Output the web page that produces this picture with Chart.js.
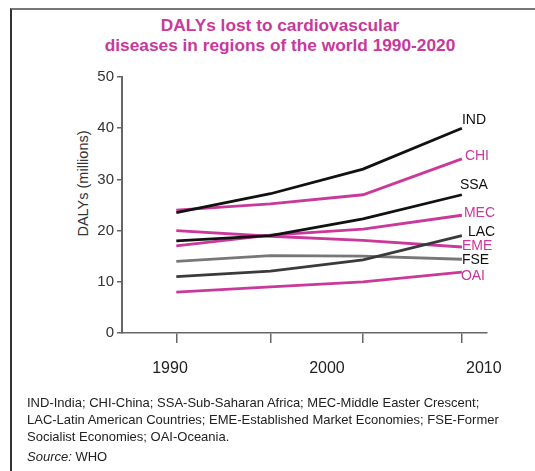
<!DOCTYPE html>
<html>
<head>
<meta charset="utf-8">
<script src="https://cdn.jsdelivr.net/npm/chart.js@4"></script>
<style>
  body { margin: 0; background: #fff; font-family: "Liberation Sans", Arial, sans-serif; }
  #wrap { position: relative; width: 535px; height: 471px; overflow: hidden; }
  #frame { position: absolute; left: 10px; top: 8px; right: 0; bottom: 0; border-top: 2px solid #777; border-left: 2px solid #333; }
  #titel { position: absolute; left: 0; top: 15px; width: 560px; text-align: center; color: #c9389b; font-weight: bold; font-size: 17.3px; line-height: 20px; }
  #ytitel { position: absolute; left: -17px; top: 175px; width: 200px; height: 17px; line-height: 17px; text-align: center; font-size: 14.5px; color: #333; transform: rotate(-90deg); }
  #noot { position: absolute; left: 27px; top: 394px; font-size: 13px; line-height: 17px; color: #222; }
  #bron { margin-top: 3px; }
  canvas { position: absolute; left: 0; top: 0; }
</style>
</head>
<body>
<div id="wrap">
  <div id="frame"></div>
  <div id="titel">DALYs lost to cardiovascular<br>diseases in regions of the world 1990-2020</div>
  <div id="ytitel">DALYs (millions)</div>
  <canvas id="dalyChart" width="535" height="471"></canvas>
  <div id="noot">
    IND-India; CHI-China; SSA-Sub-Saharan Africa; MEC-Middle Easter Crescent;<br>
    LAC-Latin American Countries; EME-Established Market Economies; FSE-Former<br>
    Socialist Economies; OAI-Oceania.
    <div id="bron"><i>Source:</i> WHO</div>
  </div>
</div>
<script>
var years = [1990.4, 1996.4, 2002.3, 2008.6];
// Jaartallen onder de as
var yearLabels = [1990, 2000, 2010];
// Tick labels links
var yTicks = [0, 10, 20, 30, 40, 50];

// Regio's en hun waarden (miljoen DALYs)
var regions = ['IND', 'CHI', 'SSA', 'MEC', 'LAC', 'EME', 'FSE', 'OAI'];
var ind = [23.5, 27.2, 32.0, 40.0];
var chi = [24.0, 25.2, 27.0, 34.0];
var ssa = [18.0, 19.0, 22.3, 27.0];
var mec = [17.0, 19.1, 20.3, 23.0];
var lac = [11.0, 12.1, 14.3, 19.0];
var eme = [20.0, 18.9, 18.1, 16.8];
var fse = [14.0, 15.1, 15.0, 14.4];
var oai = [8.0, 9.0, 10.0, 11.9];
var values = [ind, chi, ssa, mec, lac, eme, fse, oai];

var pink = '#c9389b';
var lineColors = ['#111', pink, '#111', pink, '#3a3a3a', pink, '#777', pink];
var textColors = ['#111', pink, '#111', pink, '#111', pink, '#111', pink];
// kleine verschuiving van de namen aan het eind van de lijn
var nudge = [[0, -8], [3, -3], [-2, -10], [2, -2], [6, -4], [0, -1], [0, 1], [-1, 4]];

var xMin = 1986.94;
var xMax = 2010.2;

// Namen rechts naast het laatste punt
var endLabels = {
    id: 'endLabels',
    afterDatasetsDraw: function (chart) {
        var ctx = chart.ctx;
        ctx.save();
        ctx.font = '14px "Liberation Sans", Arial, sans-serif';
        ctx.textAlign = 'left';
        ctx.textBaseline = 'middle';
        chart.data.datasets.forEach(function (ds, i) {
            var pts = chart.getDatasetMeta(i).data;
            var last = pts[pts.length - 1];
            ctx.fillStyle = textColors[i];
            ctx.fillText(ds.label, last.x + nudge[i][0], last.y + nudge[i][1]);
        });
        ctx.restore();
    }
};

var ctx = document.getElementById('dalyChart').getContext('2d');
var chart = new Chart(ctx, {
    type: 'line',
    data: {
        datasets: regions.map(function (r, i) {
            return {
                label: r,
                data: years.map(function (y, j) { return { x: y, y: values[i][j] }; }),
                borderColor: lineColors[i],
                borderWidth: 2.8,
                pointRadius: 0,
                tension: 0,
                fill: false
            };
        })
    },
    options: {
        responsive: false,
        animation: false,
        layout: { padding: { left: 0, right: 48, top: 77, bottom: 93 } },
        plugins: {
            legend: { display: false },
            tooltip: { enabled: false }
        },
        scales: {
            x: {
                type: 'linear',
                min: xMin,
                max: xMax,
                afterBuildTicks: function (s) { s.ticks = years.map(function (v) { return { value: v }; }); },
                afterFit: function (s) { s.height = 10; },
                ticks: { display: false },
                grid: { drawOnChartArea: false, tickLength: 10, color: '#666', lineWidth: 1.5 },
                border: { color: '#666', width: 1.5 }
            },
            x2: {
                type: 'linear',
                position: 'bottom',
                min: xMin,
                max: xMax,
                afterBuildTicks: function (s) { s.ticks = yearLabels.map(function (v) { return { value: v }; }); },
                afterFit: function (s) { s.height = 35; },
                grid: { display: false },
                border: { display: false },
                ticks: {
                    padding: 8,
                    color: '#222',
                    font: { size: 16, family: '"Liberation Sans", Arial, sans-serif' },
                    callback: function (v) { return String(v); }
                }
            },
            y: {
                min: 0,
                max: 50,
                afterBuildTicks: function (s) { s.ticks = yTicks.map(function (v) { return { value: v }; }); },
                afterFit: function (s) { s.width = 122; },
                ticks: {
                    padding: 3,
                    color: '#333',
                    font: { size: 15, family: '"Liberation Sans", Arial, sans-serif' }
                },
                grid: { drawOnChartArea: false, tickLength: 5, color: '#666', lineWidth: 1.5 },
                border: { color: '#666', width: 2 }
            }
        }
    },
    plugins: [endLabels]
});
</script>
</body>
</html>
